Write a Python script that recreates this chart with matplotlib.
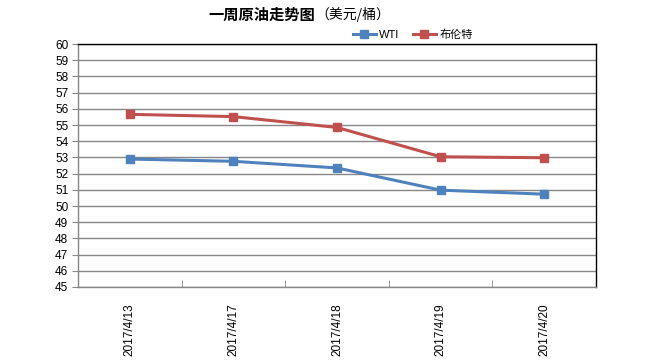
import matplotlib
matplotlib.use('Agg')
import matplotlib.pyplot as plt

plt.rcParams['font.family'] = ['Liberation Sans', 'Noto Sans CJK SC', 'DejaVu Sans']

# данные
dates = ['2017/4/13', '2017/4/17', '2017/4/18', '2017/4/19', '2017/4/20']
wti = [52.90, 52.76, 52.35, 50.98, 50.73]
brent = [55.66, 55.52, 54.85, 53.04, 52.98]
y_ticks = list(range(45, 61))

fig = plt.figure(figsize=(6.5, 3.61), dpi=100)
ax = fig.add_axes([0.12, 0.205, 0.797, 0.673])

grid_c = '#868686'
for y in y_ticks:
    ax.axhline(y, color=grid_c, lw=1.0, zorder=1)

x = list(range(len(dates)))
ax.plot(x, wti, '-s', color='#4F81BD', lw=2.2, ms=5.5, label='WTI', zorder=3)
ax.plot(x, brent, '-s', color='#C0504D', lw=2.2, ms=5.5, label='布伦特', zorder=3)

ax.set_xlim(-0.5, len(dates) - 0.5)
ax.set_ylim(45, 60)
ax.set_yticks(y_ticks)
ax.set_yticklabels([str(v) for v in y_ticks], fontsize=8.5)
ax.set_xticks(x)
ax.set_xticklabels(dates, rotation=90, fontsize=8.5)
ax.set_xticks([i + 0.5 for i in x[:-1]], minor=True)
ax.tick_params(axis='x', which='major', length=0, pad=12)
ax.tick_params(axis='x', which='minor', length=5, direction='in', color=grid_c)
ax.tick_params(axis='y', length=4, direction='out', color=grid_c, pad=3)

ax.spines['left'].set_color(grid_c)
ax.spines['bottom'].set_color(grid_c)
ax.spines['top'].set_color('black')
ax.spines['right'].set_color('black')
for s in ax.spines.values():
    s.set_linewidth(1.0)

fig.text(0.485, 0.96, '一周原油走势图', fontsize=11, fontweight='bold',
         ha='right', va='center', family=['Noto Sans CJK SC'])
fig.text(0.485, 0.96, '（美元/桶）', fontsize=10,
         ha='left', va='center', family=['Noto Sans CJK SC'])

leg = ax.legend(loc='lower right', bbox_to_anchor=(0.775, 0.99), ncol=2, frameon=False,
                handlelength=2.1, handletextpad=0.3, columnspacing=1.2, borderaxespad=0.2,
                prop={'family': ['Liberation Sans', 'Noto Sans CJK SC'], 'size': 8})

fig.savefig('out.png', dpi=100)
